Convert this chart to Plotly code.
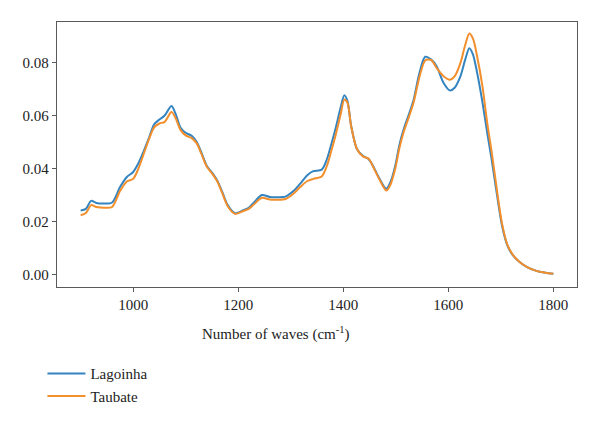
import plotly.graph_objects as go

wavenumber = [900, 910, 920, 930, 945, 960, 975, 988, 1000, 1010, 1020, 1030, 1040, 1050, 1060,
              1073, 1082, 1090, 1100, 1112, 1121, 1130, 1140, 1150, 1160, 1170, 1180, 1194, 1210,
              1220, 1230, 1245, 1260, 1275, 1290, 1305, 1318, 1331, 1343, 1359, 1369, 1377, 1385,
              1395, 1402, 1408, 1415, 1426, 1438, 1448, 1458, 1468, 1482, 1490, 1499, 1507, 1515,
              1525, 1534, 1545, 1556, 1567, 1578, 1591, 1603, 1612, 1623, 1632, 1640, 1647, 1655,
              1665, 1674, 1682, 1690, 1702, 1712, 1722, 1734, 1750, 1769, 1785, 1800]

lagoinha = [0.0242, 0.0248, 0.0278, 0.0270, 0.0268, 0.0272, 0.0330, 0.0368, 0.0387, 0.0420,
            0.0465, 0.0515, 0.0567, 0.0585, 0.0600, 0.0636, 0.0600, 0.0555, 0.0535, 0.0523,
            0.0500, 0.0460, 0.0411, 0.0385, 0.0355, 0.0310, 0.0262, 0.0231, 0.0243, 0.0252,
            0.0272, 0.0300, 0.0293, 0.0292, 0.0294, 0.0315, 0.0343, 0.0374, 0.0390, 0.0396,
            0.0436, 0.0490, 0.0548, 0.0630, 0.0677, 0.0655, 0.0561, 0.0474, 0.0447, 0.0436,
            0.0405, 0.0365, 0.0324, 0.0350, 0.0411, 0.0490, 0.0548, 0.0605, 0.0660, 0.0760,
            0.0822, 0.0812, 0.0785, 0.0723, 0.0695, 0.0705, 0.0748, 0.0810, 0.0854, 0.0830,
            0.0760, 0.0650, 0.0536, 0.0440, 0.0336, 0.0187, 0.0112, 0.0075, 0.0050, 0.0028,
            0.0013, 0.0007, 0.0003]

taubate = [0.0224, 0.0232, 0.0262, 0.0255, 0.0252, 0.0255, 0.0315, 0.0351, 0.0361, 0.0400,
           0.0455, 0.0510, 0.0555, 0.0570, 0.0576, 0.0613, 0.0585, 0.0546, 0.0525, 0.0514,
           0.0495, 0.0455, 0.0408, 0.0382, 0.0352, 0.0305, 0.0258, 0.0229, 0.0240, 0.0248,
           0.0265, 0.0290, 0.0283, 0.0282, 0.0285, 0.0305, 0.0330, 0.0352, 0.0361, 0.0370,
           0.0411, 0.0465, 0.0523, 0.0605, 0.0660, 0.0648, 0.0560, 0.0474, 0.0445, 0.0438,
           0.0402, 0.0362, 0.0317, 0.0340, 0.0400, 0.0478, 0.0538, 0.0595, 0.0650, 0.0745,
           0.0808, 0.0810, 0.0779, 0.0748, 0.0735, 0.0748, 0.0798, 0.0865, 0.0910, 0.0890,
           0.0822, 0.0710, 0.0573, 0.0470, 0.0355, 0.0195, 0.0115, 0.0077, 0.0050, 0.0028,
           0.0013, 0.0007, 0.0003]

x_ticks = [1000, 1200, 1400, 1600, 1800]
y_ticks = [0.00, 0.02, 0.04, 0.06, 0.08]
y_tick_labels = ["0.00", "0.02", "0.04", "0.06", "0.08"]
x_title = "Number of waves (cm<sup>-1</sup>)"

FONT = "Liberation Serif"

fig = go.Figure()
fig.add_trace(go.Scatter(x=wavenumber, y=lagoinha, name="Lagoinha", mode="lines",
                         line=dict(color="#3384c0", width=2, shape="spline", smoothing=0.8)))
fig.add_trace(go.Scatter(x=wavenumber, y=taubate, name="Taubate", mode="lines",
                         line=dict(color="#f28e2b", width=2, shape="spline", smoothing=0.8)))

axis_common = dict(showline=True, mirror=True, linecolor="#5a5a5a", linewidth=1.3,
                   showgrid=False, zeroline=False, ticks="outside", ticklen=4,
                   tickcolor="#5a5a5a", tickwidth=1,
                   tickfont=dict(family=FONT, size=15, color="#222"))

fig.update_layout(
    width=600, height=424,
    margin=dict(l=57, r=23, t=22, b=134),
    paper_bgcolor="white", plot_bgcolor="white",
    font=dict(family=FONT, size=15, color="#222"),
    xaxis=dict(range=[855, 1845], tickvals=x_ticks, **axis_common),
    yaxis=dict(range=[-0.0047, 0.0953], tickvals=y_ticks, ticktext=y_tick_labels, **axis_common),
    showlegend=True,
    legend=dict(x=-0.028, y=-0.265, xanchor="left", yanchor="top",
                font=dict(family=FONT, size=15, color="#222"),
                itemwidth=38,
                bgcolor="rgba(0,0,0,0)", tracegroupgap=0),
    annotations=[dict(text=x_title, x=0.42, y=-0.175, xref="paper", yref="paper",
                      xanchor="center", yanchor="middle", showarrow=False,
                      font=dict(family=FONT, size=15, color="#222"))],
)

fig.write_html("out.html")
